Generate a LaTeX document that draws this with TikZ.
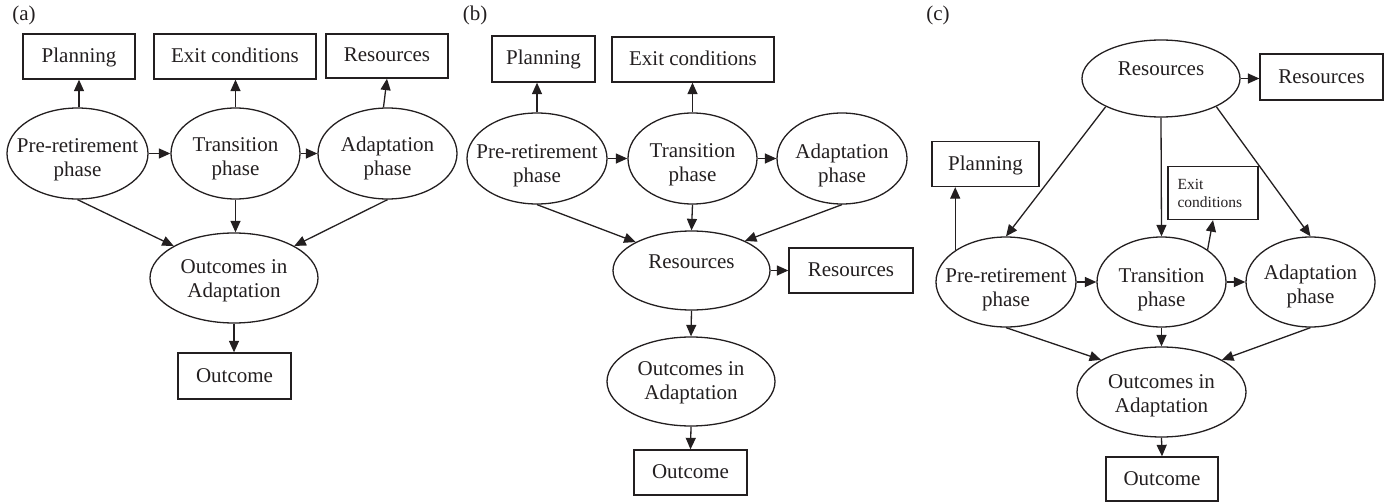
\documentclass[tikz,border=0pt]{standalone}
\usepackage{fontspec}
\setmainfont{Liberation Serif}
\usetikzlibrary{shapes.geometric,arrows.meta,calc}
\definecolor{ink}{RGB}{35,31,32}
\newcommand{\et}[2][-23]{\makebox[0pt]{\smash{\raisebox{#1pt}{\begin{tabular}[b]{@{}c@{}}#2\end{tabular}}}}}
\tikzset{
  ell/.style={draw=ink, ellipse, inner sep=0pt, line width=1.3pt},
  bx/.style={draw=ink, rectangle, inner sep=0pt, line width=1.3pt, text height=15pt, text depth=3pt},
  lab/.style={inner sep=0pt},
  arr/.style={draw=ink, line width=1.3pt, -{Triangle[length=11.5pt,width=10pt]}},
}
\begin{document}
\begin{tikzpicture}[x=1pt,y=-1pt,font=\fontsize{21}{24}\selectfont,text=ink]
\useasboundingbox (0,0) rectangle (1384,503);

% ---------- (a) ----------
\node[lab] (labA) at (24,15.5) {(a)};
\node[bx, minimum width=112pt, minimum height=45pt] (planA) at (79,56.5) {Planning};
\node[bx, minimum width=162pt, minimum height=45pt] (exA) at (235,56.5) {Exit conditions};
\node[bx, minimum width=122pt, minimum height=44pt] (rbA) at (387,56) {Resources};
\node[ell, minimum width=141pt, minimum height=91pt] (preA) at (77.5,153.5) {\et{Pre-retirement\\phase}};
\node[ell, minimum width=129pt, minimum height=91pt] (trA) at (235.5,153.5) {\et[-22]{Transition\\phase}};
\node[ell, minimum width=139pt, minimum height=91pt] (adA) at (387.5,153.5) {\et[-22]{Adaptation\\phase}};
\node[ell, minimum width=168pt, minimum height=90pt] (outA) at (234,278) {\et[-19]{Outcomes in\\Adaptation}};
\node[bx, minimum width=113pt, minimum height=46pt] (ocA) at (234.5,376) {Outcome};

\draw[arr] (planA.south |- preA.north) -- (planA.south);
\draw[arr] (trA.north) -- (trA.north |- exA.south);
\draw[arr] (adA.95) -- (rbA.south);
\draw[arr] (preA.east) -- (trA.west);
\draw[arr] (trA.east) -- (adA.west);
\draw[arr] (preA.south) -- (outA.152);
\draw[arr] (trA.south) -- (trA.south |- outA.north);
\draw[arr] (adA.south) -- (outA.28);
\draw[arr] (outA.south) -- (outA.south |- ocA.north);

% ---------- (b) ----------
\node[lab] (labB) at (475,15.5) {(b)};
\node[bx, minimum width=103pt, minimum height=46pt] (planB) at (543.5,59) {Planning};
\node[bx, minimum width=162pt, minimum height=45pt] (exB) at (693,59.5) {Exit conditions};
\node[ell, minimum width=140pt, minimum height=91pt] (preB) at (537,158.5) {\et[-24]{Pre-retirement\\phase}};
\node[ell, minimum width=129pt, minimum height=91pt] (trB) at (692.5,158.5) {\et[-23]{Transition\\phase}};
\node[ell, minimum width=130pt, minimum height=91pt] (adB) at (842,158.5) {\et[-24]{Adaptation\\phase}};
\node[ell, minimum width=157pt, minimum height=79pt] (resB) at (691.5,270.5) {\et[2.5]{Resources}};
\node[bx, minimum width=124pt, minimum height=45pt] (rbB) at (851,270.5) {Resources};
\node[ell, minimum width=168pt, minimum height=89pt] (outB) at (691,381.5) {\et[-18]{Outcomes in\\Adaptation}};
\node[bx, minimum width=113pt, minimum height=45pt] (ocB) at (690.5,472.5) {Outcome};

\draw[arr] (preB.north) -- (preB.north |- planB.south);
\draw[arr] (trB.north) -- (trB.north |- exB.south);
\draw[arr] (preB.east) -- (trB.west);
\draw[arr] (trB.east) -- (adB.west);
\draw[arr] (preB.south) -- (resB.153);
\draw[arr] (trB.south) -- (resB.north);
\draw[arr] (adB.south) -- (resB.29);
\draw[arr] (resB.east) -- (rbB.west);
\draw[arr] (resB.south) -- (outB.north);
\draw[arr] (outB.south) -- (ocB.north);

% ---------- (c) ----------
\node[lab] (labC) at (938,15.5) {(c)};
\node[ell, minimum width=158pt, minimum height=77pt] (resC) at (1161,78.5) {\et[2.5]{Resources}};
\node[bx, minimum width=123pt, minimum height=46pt] (rbC) at (1321.5,77) {Resources};
\node[bx, minimum width=107pt, minimum height=45pt] (plC) at (985.5,164) {Planning};
\node[draw=ink, rectangle, inner sep=0pt, line width=1.3pt, minimum width=90pt, minimum height=53pt] (exC) at (1213,193)
  {\fontsize{15.5}{18}\selectfont\makebox[0pt]{\smash{\raisebox{-14.3pt}{\makebox[70.8pt][l]{\begin{tabular}[b]{@{}l@{}}Exit\\conditions\end{tabular}}}}}};
\node[ell, minimum width=140pt, minimum height=90pt] (preC) at (1006,282) {\et[-24]{Pre-retirement\\phase}};
\node[ell, minimum width=129pt, minimum height=90pt] (trC) at (1161.5,282) {\et[-24]{Transition\\phase}};
\node[ell, minimum width=129pt, minimum height=90pt] (adC) at (1310.5,282) {\et[-21]{Adaptation\\phase}};
\node[ell, minimum width=169pt, minimum height=90pt] (outC) at (1161.5,392) {\et[-20]{Outcomes in\\Adaptation}};
\node[bx, minimum width=112pt, minimum height=44pt] (ocC) at (1162,479) {Outcome};

\draw[arr] (resC.east) -- (resC.east -| rbC.west);
\draw[arr] (resC.207) -- (preC.north);
\draw[arr] (resC.south) -- (trC.north);
\draw[arr] (resC.333) -- (adC.north);
\draw[arr] (preC.148) -- (preC.148 |- plC.south);
\draw[arr] (trC.35) -- (exC.south);
\draw[arr] (preC.east) -- (trC.west);
\draw[arr] (trC.east) -- (adC.west);
\draw[arr] (preC.south) -- (outC.152);
\draw[arr] (trC.south) -- (outC.north);
\draw[arr] (adC.south) -- (outC.28);
\draw[arr] (outC.south) -- (ocC.north);
\end{tikzpicture}
\end{document}
